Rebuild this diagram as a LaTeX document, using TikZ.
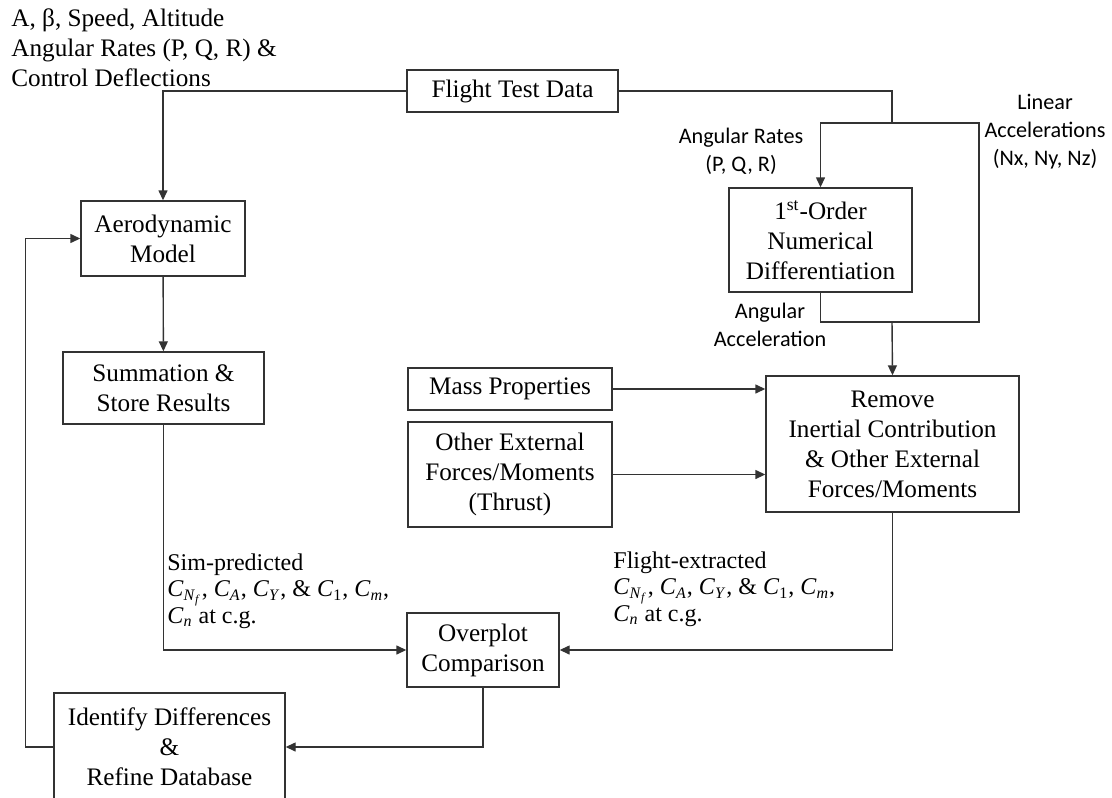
\documentclass[tikz,border=0pt]{standalone}
\usepackage{fontspec}
\setmainfont{Liberation Serif}
\newfontfamily\lblfont{Carlito}
\usetikzlibrary{arrows.meta}
\newcommand{\coefC}[1]{\textit{C}\textsubscript{#1}}
\newcommand{\coeflist}{\coefC{\textit{N}\textsubscript{\textit{f}}}, \coefC{\textit{A}}, \coefC{\textit{Y}}, \& \coefC{1}, \coefC{\textit{m}},}

\begin{document}
\begin{tikzpicture}[x=0.5pt,y=-0.5pt,
    blk/.style={draw=black!80,line width=0.7pt,align=center,inner sep=0pt,font=\fontsize{12.6}{15}\selectfont},
    arr/.style={draw=black!80,line width=0.7pt,-{Triangle[length=5pt,width=4.5pt]}},
    ln/.style={draw=black!80,line width=0.7pt},
    sig/.style={align=center,font=\lblfont\fontsize{11.1}{14}\selectfont},
    coef/.style={align=left,anchor=north west,inner sep=0pt,font=\fontsize{12}{13.3}\selectfont}]
            \useasboundingbox (0,0) rectangle (1112,797);
            \node[blk,minimum width=105.5pt,minimum height=21pt] at (512.5,91) (ftd) {Flight Test Data};
            \node[blk,minimum width=82pt,minimum height=37.5pt] at (163,238.5) (aero) {Aerodynamic\\Model};
            \node[blk,minimum width=100.5pt,minimum height=36pt] at (163.5,388) (summ) {Summation \&\\Store Results};
            \node[blk,minimum width=91.5pt,minimum height=52pt] at (820.5,240) (diff) {1\textsuperscript{st}-Order\\Numerical\\Differentiation};
            \node[blk,minimum width=126.5pt,minimum height=68pt] at (892.5,444) (remove) {Remove\\Inertial Contribution\\\& Other External\\Forces/Moments};
            \node[blk,minimum width=102pt,minimum height=21pt] at (510,389) (mass) {Mass Properties};
            \node[blk,minimum width=102pt,minimum height=52.5pt] at (510,474.5) (other) {Other External\\Forces/Moments\\(Thrust)};
            \node[blk,minimum width=76pt,minimum height=37pt] at (483,650) (over) {Overplot\\Comparison};
            \node[blk,minimum width=115.5pt,minimum height=54pt] at (169.5,747) (ident) {Identify Differences\\\&\\Refine Database};
            % signal labels
            \node[align=left,anchor=north west,inner sep=0pt,font=\fontsize{12.6}{15}\selectfont] at (11,8) (inputs) {A, β, Speed, Altitude\\Angular Rates (P, Q, R) \&\\Control Deflections};
            \node[sig] at (741,151) (rates) {Angular Rates\\(P, Q, R)};
            \node[sig] at (1045,132) (lin) {Linear\\Accelerations\\(Nx, Ny, Nz)};
            \node[sig] at (770,325) (angacc) {Angular\\Acceleration};
            \node[coef] at (167,553) (simc) {Sim-predicted\\\coeflist\\\coefC{\textit{n}} at c.g.};
            \node[coef] at (613,551) (fltc) {Flight-extracted\\\coeflist\\\coefC{\textit{n}} at c.g.};
            \coordinate (split) at (892,123);
            \coordinate (join) at (892,322);
            % connectors
            \draw[arr] (ftd.west) -| (aero.north);
            \draw[arr] (aero) -- (summ);
            \draw[arr] (summ.south) |- (over.west);
            \draw[arr] (over.south) |- (ident.east);
            \draw[arr] (ident.west) -- ++(-28,0) |- (aero.west);
            \draw[ln] (ftd.east) -| (split);
            \draw[arr] (split) -- (split -| diff.north) -- (diff.north);
            \draw[ln] (split) -- ++(87,0) |- (join);
            \draw[ln] (diff.south) |- (join);
            \draw[arr] (join) -- (remove.north);
            \draw[arr] (mass) -- (mass -| remove.west);
            \draw[arr] (other) -- (other -| remove.west);
            \draw[arr] (remove.south) |- (over.east);
          \end{tikzpicture}
\end{document}
